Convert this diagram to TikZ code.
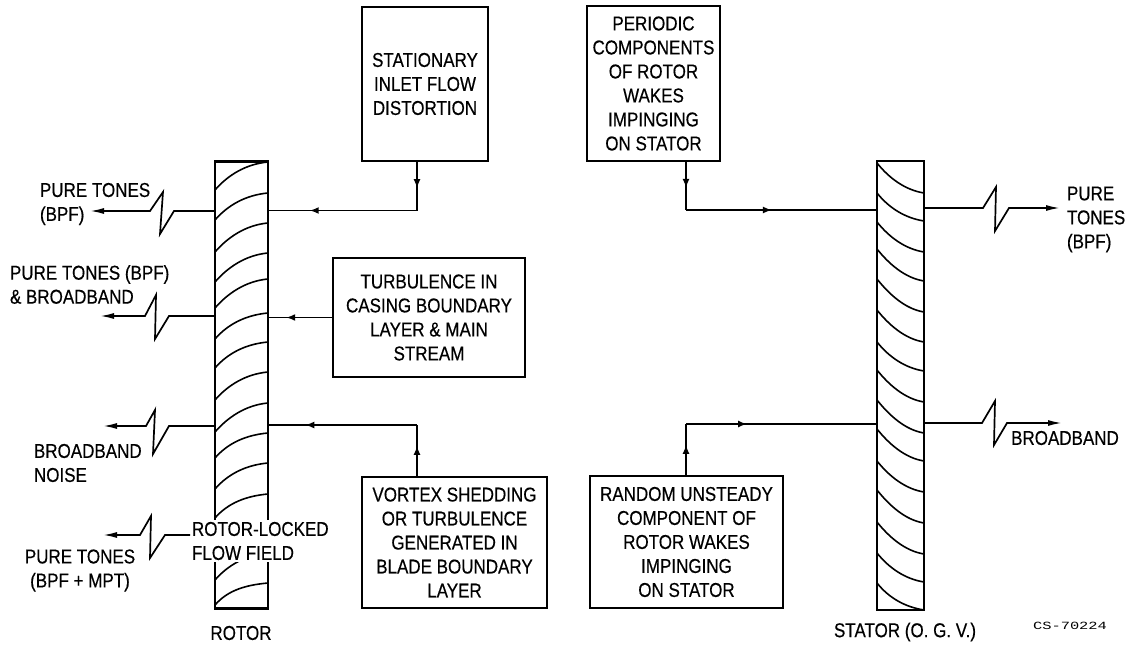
\documentclass[tikz,border=0pt]{standalone}
\usepackage{fontspec}
\setmainfont[FakeStretch=0.85,FakeBold=0.4]{Liberation Sans}
\newfontfamily\csfont[FakeStretch=1.4]{Liberation Mono}
\usetikzlibrary{arrows.meta,decorations.markings}
\tikzset{
  x=1pt,y=-1pt,
  lbl/.style={font=\fontsize{20}{24}\selectfont,inner sep=0pt,outer sep=0pt},
  boxnode/.style={lbl,draw,line width=2.1pt,fill=white,align=center,minimum width=#1},
  wheel/.style={draw,line width=2.1pt,inner sep=0pt,outer sep=0pt,minimum width=#1},
  blade/.style={line width=1.6pt},
  conn/.style={line width=1.8pt},
  mid/.style={conn,postaction={decorate},decoration={markings,mark=at position #1 with {\arrow{Latex[length=9pt,width=7pt]}}}},
  tone/.style={line width=1.7pt,-{Latex[length=14pt,width=6pt]}},
}
\begin{document}
\begin{tikzpicture}
\useasboundingbox (0,0) rectangle (1127,648);
\fill[white] (0,0) rectangle (1127,648);

% rotor and stator columns
\node[wheel=53pt,minimum height=447pt] (rotor) at (241.5,385) {};
\node[wheel=47pt,minimum height=449pt] (stator) at (900.5,385.5) {};
\foreach \l/\r in {190/162,220/193,252/223,282/253,308/279,339/313,368/342,400/372,432/403,458/433,489/463,518/494,580/553,605/583}
  \draw[blade] (215,\l) .. controls (228,{\l-15}) and (246,{\r+2}) .. (268,\r);
\foreach \l/\r in {163/193,193/221,222/252,249/281,279/312,310/342,342/371,370/402,400/433,429/461,461/492,490/523,522/554,553/582,583/610}
  \draw[blade] (877,\l) .. controls (889,{\l+15}) and (905,{\r-3}) .. (924,\r);

% source boxes
\node[boxnode=126pt,minimum height=154pt] (inlet) at (425,84) {STATIONARY\\INLET FLOW\\DISTORTION};
\node[boxnode=133pt,minimum height=155pt] (periodic) at (653.5,83.5) {PERIODIC\\COMPONENTS\\OF ROTOR\\WAKES\\IMPINGING\\ON STATOR};
\node[boxnode=192pt,minimum height=119pt] (casing) at (429,317.5) {TURBULENCE IN\\CASING BOUNDARY\\LAYER \& MAIN\\STREAM};
\node[boxnode=185pt,minimum height=131pt] (vortex) at (454.5,542.5) {VORTEX SHEDDING\\OR TURBULENCE\\GENERATED IN\\BLADE BOUNDARY\\LAYER};
\node[boxnode=193pt,minimum height=132pt] (random) at (686.5,542) {RANDOM UNSTEADY\\COMPONENT OF\\ROTOR WAKES\\IMPINGING\\ON STATOR};

% labels
\node[lbl,anchor=west,align=left] (l1) at (40,204) {PURE TONES\\(BPF)};
\node[lbl,anchor=west,align=left] (l2) at (10,284.5) {PURE TONES (BPF)\\\& BROADBAND};
\node[lbl,anchor=west,align=left] (l3) at (34,463) {BROADBAND\\NOISE};
\node[lbl,align=center] (l4) at (80,570.5) {PURE TONES\\(BPF + MPT)};
\node[lbl,anchor=west,align=left,fill=white,inner sep=2pt] (locked) at (190,541) {ROTOR-LOCKED\\FLOW FIELD};
\node[lbl] (rotorlbl) at (241,633) {ROTOR};
\node[lbl] (statorlbl) at (905,632) {STATOR (O. G. V.)};
\node[lbl,anchor=west,align=left] (r1) at (1067,219.5) {PURE\\TONES\\(BPF)};
\node[lbl] (r2) at (1065,438) {BROADBAND};
\node[inner sep=0pt,font=\csfont\fontsize{11}{13}\selectfont] (cs) at (1070,626) {CS-70224};

% junctions and free ends
\coordinate (j1) at (417,210.5);
\coordinate (j4) at (417,425);
\coordinate (j2) at (686,210);
\coordinate (j5) at (686,424);
\coordinate (t1) at (90,211);
\coordinate (t2) at (100,316);
\coordinate (t3) at (103,426);
\coordinate (t4) at (103,535);
\coordinate (t5) at (1060,208);
\coordinate (t6) at (1062,423);

% flow connectors
\draw[mid=.55] (j1 |- inlet.south) -- (j1);
\draw[mid=.72] (j1) -- (rotor.east |- j1);
\draw[mid=.55] (j2 |- periodic.south) -- (j2);
\draw[mid=.45] (j2) -- (stator.west |- j2);
\draw[mid=.72] (casing.west) -- (rotor.east |- casing.west);
\draw[mid=.6] (j4 |- vortex.north) -- (j4);
\draw[mid=.75] (j4) -- (rotor.east |- j4);
\draw[mid=.6] (j5 |- random.north) -- (j5);
\draw[mid=.32] (j5) -- (stator.west |- j5);

% radiated noise
\draw[tone] (rotor.west |- t1) -- (174,211) -- (160,234) -- (163,192) -- (150,211) -- (t1);
\draw[tone] (rotor.west |- t2) -- (169,316) -- (155,339) -- (156,295) -- (145,316) -- (t2);
\draw[tone] (rotor.west |- t3) -- (169,426) -- (153,454) -- (155,410) -- (146,426) -- (t3);
\draw[tone] (locked.west |- t4) -- (165,535) -- (150,558) -- (151,516) -- (140,535) -- (t4);
\draw[tone] (stator.east |- t5) -- (983,208) -- (996,187) -- (995,231) -- (1009,208) -- (t5);
\draw[tone] (stator.east |- t6) -- (982,423) -- (995,401) -- (994,445) -- (1007,423) -- (t6);
\end{tikzpicture}
\end{document}
